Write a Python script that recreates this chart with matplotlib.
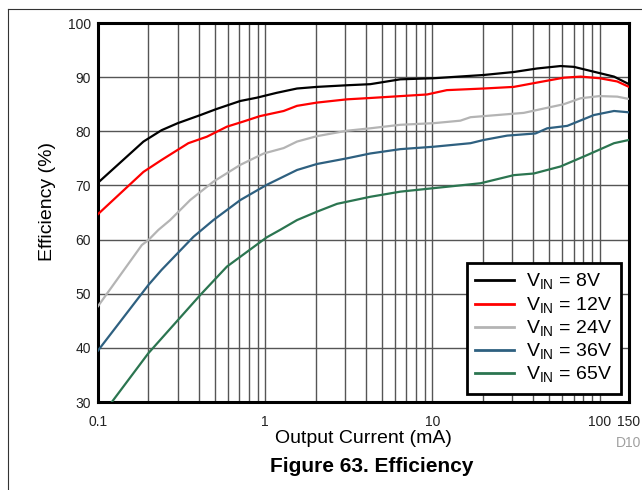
import numpy as np
import matplotlib
matplotlib.use('Agg')
import matplotlib.pyplot as plt
from matplotlib.lines import Line2D
from matplotlib.ticker import FixedLocator, NullFormatter

plt.rcParams['font.family'] = ['Liberation Sans', 'DejaVu Sans']

# efficiency curves (current in mA, efficiency in %)
i_8v = [0.1, 0.187, 0.24, 0.30, 0.41, 0.51, 0.71, 0.89, 1.17, 1.55, 2.04, 3.08, 4.25,
        6.43, 10.2, 20.3, 30.7, 42.3, 58.4, 70.2, 92.5, 122, 150]
eff_8v = [70.5, 78.1, 80.2, 81.5, 83.0, 84.1, 85.6, 86.2, 87.1, 87.9, 88.2, 88.5, 88.7,
          89.6, 89.8, 90.4, 90.95, 91.6, 92.05, 91.9, 91.0, 90.1, 88.7]

i_12v = [0.1, 0.187, 0.24, 0.347, 0.448, 0.59, 0.74, 0.93, 1.29, 1.55, 2.04, 3.08, 4.25,
         9.3, 12.2, 20.3, 30.7, 42.3, 61.1, 77, 100, 127.6, 150]
eff_12v = [64.7, 72.5, 74.7, 77.8, 79.0, 80.85, 81.8, 82.8, 83.75, 84.7, 85.3, 85.9, 86.15,
           86.8, 87.6, 87.9, 88.2, 89.0, 89.9, 90.1, 89.8, 89.2, 88.2]

i_24v = [0.1, 0.183, 0.2, 0.23, 0.27, 0.356, 0.49, 0.71, 0.98, 1.29, 1.55, 2.04, 3.08, 4.25,
         6.43, 10.2, 14.7, 16.9, 35.2, 61.1, 77, 100, 127.6, 150]
eff_24v = [47.7, 59.0, 59.9, 61.8, 63.6, 67.3, 70.7, 73.8, 75.9, 76.9, 78.1, 79.1, 80.1, 80.55,
           81.2, 81.5, 81.96, 82.6, 83.4, 85.0, 86.1, 86.5, 86.4, 85.97]

i_36v = [0.1, 0.2, 0.24, 0.372, 0.49, 0.71, 1.02, 1.55, 2.04, 3.08, 4.25, 6.43, 10.2, 16.9,
         20.3, 28, 41.4, 48.6, 64.1, 92.5, 122, 150]
eff_36v = [39.5, 51.6, 54.4, 60.5, 63.6, 67.3, 70.1, 72.85, 73.96, 75.0, 75.9, 76.7, 77.15, 77.8,
           78.4, 79.2, 79.6, 80.55, 81.0, 83.0, 83.75, 83.5]

i_65v = [0.121, 0.2, 0.30, 0.41, 0.59, 1.02, 1.23, 1.55, 2.04, 2.69, 4.25, 6.43, 10.2, 19.4,
         30.7, 40.4, 58.4, 84.2, 122, 150]
eff_65v = [30.0, 39.0, 45.1, 49.8, 55.0, 60.4, 61.8, 63.6, 65.15, 66.6, 67.9, 68.85, 69.5, 70.4,
           71.9, 72.2, 73.5, 75.6, 77.8, 78.4]

labels = ['8V', '12V', '24V', '36V', '65V']
colors = ['#000000', '#ff0000', '#b4b4b4', '#2e6080', '#2b7550']
x_ticks = [0.1, 1, 10, 100, 150]
x_ticklabels = ['0.1', '1', '10', '100', '150']
y_ticks = [30, 40, 50, 60, 70, 80, 90, 100]

fig = plt.figure(figsize=(6.42, 4.90), dpi=100)
ax = fig.add_axes([98 / 642, 1 - 402 / 490, 531 / 642, 379 / 490])

series = [(i_8v, eff_8v), (i_12v, eff_12v), (i_24v, eff_24v), (i_36v, eff_36v), (i_65v, eff_65v)]
for (x, y), lab, c in zip(series, labels, colors):
    ax.plot(x, y, color=c, lw=1.6, label=r'V$_{\mathregular{IN}}$ = ' + lab, zorder=3)

ax.set_xscale('log')
ax.set_xlim(0.1, 150)
ax.set_ylim(30, 100)
ax.set_xticks(x_ticks)
ax.set_xticklabels(x_ticklabels)
minors = [m * 10.0 ** d for d in range(-1, 2) for m in range(2, 10)]
ax.xaxis.set_minor_locator(FixedLocator(minors))
ax.xaxis.set_minor_formatter(NullFormatter())
ax.set_yticks(y_ticks)
ax.tick_params(axis='both', which='both', length=0, labelsize=10, colors='#222222')
ax.tick_params(axis='x', pad=9)
ax.tick_params(axis='y', pad=5)
ax.grid(True, which='both', color='#555555', lw=1.0)
ax.set_axisbelow(True)
for s in ax.spines.values():
    s.set_linewidth(2.2)
    s.set_color('black')

ax.set_xlabel('Output Current (mA)', fontsize=14, labelpad=1)
fig.text(48 / 642, 1 - 201 / 490, 'Efficiency (%)', rotation=90, fontsize=14,
         ha='center', va='center')

leg = ax.legend(loc='lower right', bbox_to_anchor=(0.985, 0.021), fontsize=14,
                fancybox=False, framealpha=1, edgecolor='black', handlelength=2.0,
                handletextpad=0.6, labelspacing=0.15, borderpad=0.45, borderaxespad=0)
leg.get_frame().set_linewidth(2)
for h in leg.get_lines():
    h.set_linewidth(2)

fig.text(641 / 642, 1 - 443 / 490, 'D10', color='#a0a0a0', fontsize=10, ha='right', va='center')
fig.text(372 / 642, 1 - 466 / 490, 'Figure 63. Efficiency', fontsize=15, fontweight='bold',
         ha='center', va='center')

# thin page frame on the left and top
fig.add_artist(Line2D([8 / 642, 8 / 642], [0, 1 - 9 / 490], color='#333333', lw=0.8))
fig.add_artist(Line2D([8 / 642, 1], [1 - 9 / 490, 1 - 9 / 490], color='#333333', lw=0.8))

fig.savefig('out.png', dpi=100)
